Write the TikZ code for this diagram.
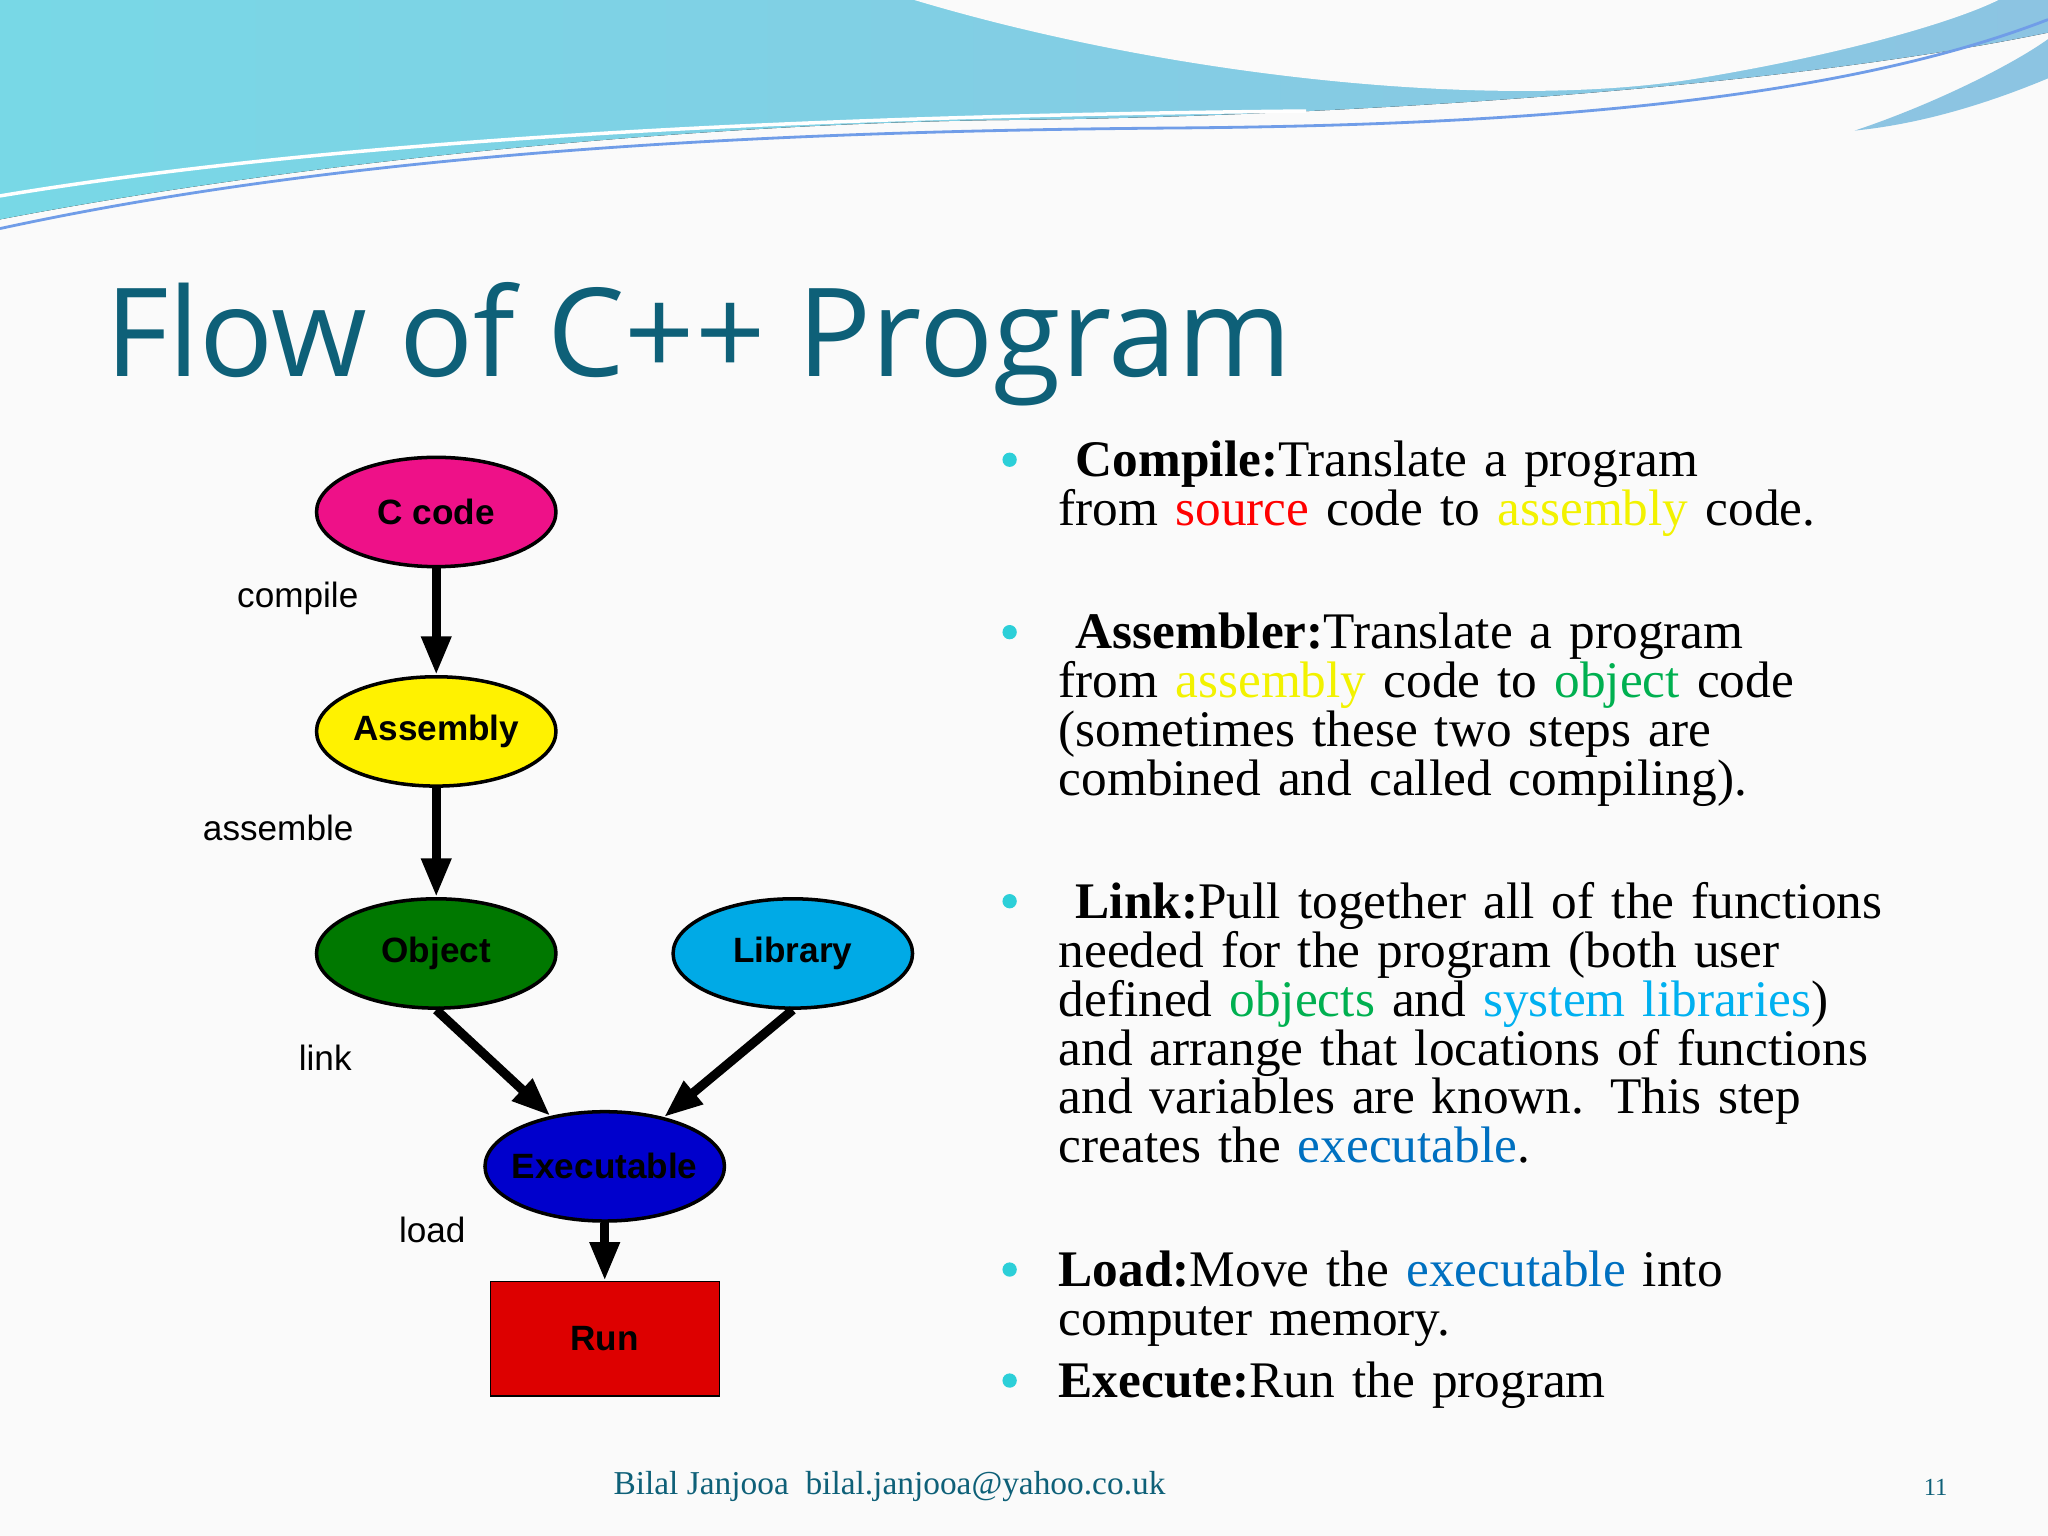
\documentclass[tikz,border=0pt]{standalone}
\usepackage{fontspec}
\setmainfont{Liberation Serif}
\newfontfamily\arialf{Liberation Sans}
\newfontfamily\titlef{Open Sans}
\usetikzlibrary{shapes.geometric,arrows.meta}
\definecolor{titlec}{HTML}{0E6078}
\definecolor{bulc}{HTML}{2CCFD8}
\definecolor{srcred}{HTML}{FF0000}
\definecolor{asmy}{HTML}{F2F200}
\definecolor{objg}{HTML}{00B050}
\definecolor{libc}{HTML}{00B0F0}
\definecolor{exec}{HTML}{0070C0}
\definecolor{waveL}{HTML}{78D8E6}
\definecolor{waveR}{HTML}{8CC4E2}
\newlength\unitpx \setlength\unitpx{0.3703pt}
\tikzset{
 ell/.style={ellipse,draw=black,line width=1pt,minimum width=184\unitpx,minimum height=84\unitpx,font=\arialf\bfseries\fontsize{10}{12}\selectfont,inner sep=0pt},
 lab/.style={font=\arialf\fontsize{10}{12}\selectfont},
 arr/.style={line width=2.6pt,-{Triangle[length=11pt,width=8pt]}},
 para/.style={anchor=north west,align=left,text width=780\unitpx,inner sep=0pt,font=\fontsize{14.6}{13.9}\selectfont},
 bul/.style={circle,fill=bulc,inner sep=0pt,minimum size=11\unitpx}
}
\begin{document}
\begin{tikzpicture}[x=0.013061cm,y=-0.013061cm]
\useasboundingbox (0,0) rectangle (1568,1176);
\fill[white!96!gray] (0,0) rectangle (1568,1176);
% top waves
\fill[left color=waveL,right color=waveR] (0,0) -- (0,168) .. controls (250,120) and (550,95) .. (760,92) .. controls (1000,90) and (1350,70) .. (1568,25) -- (1568,0) -- cycle;
\fill[white!96!gray] (700,0) .. controls (900,60) and (1150,85) .. (1300,60) .. controls (1420,40) and (1500,15) .. (1530,0) -- cycle;
\fill[waveR] (1420,100) .. controls (1480,80) and (1540,50) .. (1568,30) -- (1568,60) .. controls (1520,80) and (1470,95) .. (1420,100) -- cycle;
\draw[waveR!80!blue,line width=0.8pt] (0,175) .. controls (300,110) and (650,100) .. (900,98) .. controls (1150,96) and (1400,80) .. (1568,15);
\draw[white,line width=1pt] (0,150) .. controls (300,100) and (700,88) .. (1000,85);
% title
\node[anchor=base west,inner sep=0pt,text=titlec,font=\titlef\fontsize{35}{40}\selectfont] (title) at (80,288) {Flow of C++ Program};
% diagram
\node[ell,fill={rgb,255:red,238;green,17;blue,136}] (c) at (334,392) {C code};
\node[ell,fill={rgb,255:red,255;green,242;blue,0}] (a) at (334,560) {Assembly};
\node[ell,fill={rgb,255:red,0;green,120;blue,0}] (o) at (334,730) {Object};
\node[ell,fill={rgb,255:red,0;green,170;blue,230}] (l) at (607,730) {Library};
\node[ell,fill={rgb,255:red,0;green,0;blue,204},inner xsep=-9pt] (e) at (463,893) {Executable};
\node[draw=black,fill={rgb,255:red,221;green,0;blue,0},minimum width=176\unitpx,minimum height=88\unitpx,font=\arialf\bfseries\fontsize{10}{12}\selectfont] (r) at (463,1025) {Run};
\draw[arr] (c) -- (a);
\draw[arr] (a) -- (o);
\draw[arr] (o.south) -- (e);
\draw[arr] (l.south) -- (e);
\draw[arr] (e) -- (r);
\node[lab] (lc) at (228,458) {compile};
\node[lab] (la) at (213,634) {assemble};
\node[lab] (ll) at (249,810) {link};
\node[lab] (lo) at (331,942) {load};
% bullets
\node[bul] (b1) at (773,352) {};
\node[bul] (b2) at (773,484) {};
\node[bul] (b3) at (773,690) {};
\node[bul] (b4) at (773,972) {};
\node[bul] (b5) at (773,1057) {};
\node[para] (p1) at (810,337) {\ \textbf{Compile:}Translate a program\\from \textcolor{srcred}{source} code to \textcolor{asmy}{assembly} code.};
\node[para] (p2) at (810,469) {\ \textbf{Assembler:}Translate a program\\from \textcolor{asmy}{assembly} code to \textcolor{objg}{object} code\\(sometimes these two steps are\\combined and called compiling).};
\node[para] (p3) at (810,675) {\ \textbf{Link:}Pull together all of the functions\\needed for the program (both user\\defined \textcolor{objg}{objects} and \textcolor{libc}{system libraries})\\and arrange that locations of functions\\and variables are known. This step\\creates the \textcolor{exec}{executable}.};
\node[para] (p4) at (810,957) {\textbf{Load:}Move the \textcolor{exec}{executable} into\\computer memory.};
\node[para] (p5) at (810,1042) {\textbf{Execute:}Run the program};
% footer
\node[text=titlec,font=\fontsize{9.5}{11}\selectfont] (f1) at (681,1138) {Bilal Janjooa\ \ bilal.janjooa@yahoo.co.uk};
\node[text=titlec,font=\fontsize{7}{9}\selectfont] (f2) at (1482,1139) {11};
\end{tikzpicture}
\end{document}
